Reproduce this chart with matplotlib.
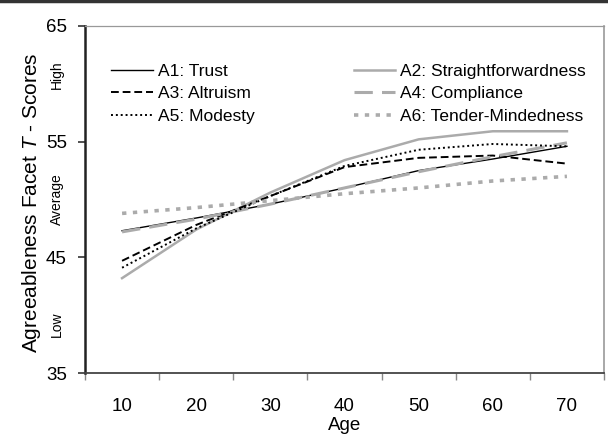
import matplotlib.pyplot as plt
from matplotlib.lines import Line2D

plt.rcParams['font.family'] = ['Liberation Sans', 'DejaVu Sans']
plt.rcParams['mathtext.fontset'] = 'custom'
plt.rcParams['mathtext.it'] = 'Liberation Sans:italic'
plt.rcParams['mathtext.rm'] = 'Liberation Sans'

ages = [10, 20, 30, 40, 50, 60, 70]
a1_trust = [47.3, 48.4, 49.6, 51.0, 52.5, 53.5, 54.6]
a2_straight = [43.2, 47.4, 50.6, 53.4, 55.2, 55.9, 55.9]
a3_altruism = [44.7, 47.8, 50.3, 52.8, 53.6, 53.8, 53.1]
a4_compliance = [47.2, 48.3, 49.6, 51.0, 52.4, 53.7, 54.9]
a5_modesty = [44.1, 47.5, 50.3, 52.9, 54.3, 54.8, 54.6]
a6_tender = [48.8, 49.3, 49.9, 50.5, 51.0, 51.6, 52.0]

labels = ["A1: Trust", "A2: Straightforwardness", "A3: Altruism",
          "A4: Compliance", "A5: Modesty", "A6: Tender-Mindedness"]

gray = "#ababab"

fig = plt.figure(figsize=(6.08, 4.47), dpi=100)
ax = fig.add_axes([85 / 608, 1 - 373 / 447, 519 / 608, 347 / 447])

l1, = ax.plot(ages, a1_trust, color="black", lw=1.0, label=labels[0])
l2, = ax.plot(ages, a2_straight, color=gray, lw=1.8, label=labels[1])
l3, = ax.plot(ages, a3_altruism, color="black", lw=1.4, dashes=(4, 2), label=labels[2])
l4, = ax.plot(ages, a4_compliance, color=gray, lw=2.2, dashes=(6, 3), label=labels[3])
l5, = ax.plot(ages, a5_modesty, color="black", lw=1.4, dashes=(1, 1.5), label=labels[4])
l6, = ax.plot(ages, a6_tender, color=gray, lw=2.6, dashes=(1.2, 1.8), label=labels[5])

ax.set_xlim(5, 75)
ax.set_ylim(35, 65)

# ticks between the age groups, labels in the middle
ax.set_xticks([5, 15, 25, 35, 45, 55, 65, 75])
ax.set_xticklabels([])
ax.set_xticks(ages, minor=True)
ax.set_xticklabels([str(a) for a in ages], minor=True, fontsize=13.5)
ax.tick_params(axis="x", which="major", direction="out", length=5, width=1, color="#888888")
ax.tick_params(axis="x", which="minor", length=0, pad=18)

ax.set_yticks([35, 45, 55, 65])
ax.set_yticklabels(["35", "45", "55", "65"], fontsize=13.5)
ax.tick_params(axis="y", direction="out", length=5, width=1.2, color="#333333", pad=8)

ax.spines["left"].set_linewidth(1.8)
ax.spines["left"].set_color("#222222")
ax.spines["bottom"].set_linewidth(1.3)
ax.spines["bottom"].set_color("#444444")
ax.spines["top"].set_linewidth(0.9)
ax.spines["top"].set_color("#999999")
ax.spines["right"].set_linewidth(1.2)
ax.spines["right"].set_color("#999999")

ax.text(0.5, -(426 - 373) / 347, "Age", transform=ax.transAxes,
        ha="center", va="center", fontsize=13.5)
ax.text(-0.104, 0.49, "Agreeableness Facet $\\mathit{T}$ - Scores", transform=ax.transAxes,
        rotation=90, ha="center", va="center", fontsize=15)

for txt, yv in [("High", 60.8), ("Average", 50.0), ("Low", 39.2)]:
    ax.text(-0.054, (yv - 35) / 30, txt, transform=ax.transAxes, rotation=90,
            ha="center", va="center", fontsize=10)

ax.legend([l1, l3, l5, l2, l4, l6], [labels[0], labels[2], labels[4], labels[1], labels[3], labels[5]],
          ncol=2, frameon=False, loc="upper left", bbox_to_anchor=(0.05, 0.892),
          fontsize=12.5, handlelength=2.4, handletextpad=0.3, columnspacing=5.7,
          labelspacing=0.43, borderpad=0, borderaxespad=0)

fig.add_artist(Line2D([0, 1], [0.997, 0.997], color="#333333", lw=2.5,
                      transform=fig.transFigure))

fig.savefig("out.png", dpi=100)
